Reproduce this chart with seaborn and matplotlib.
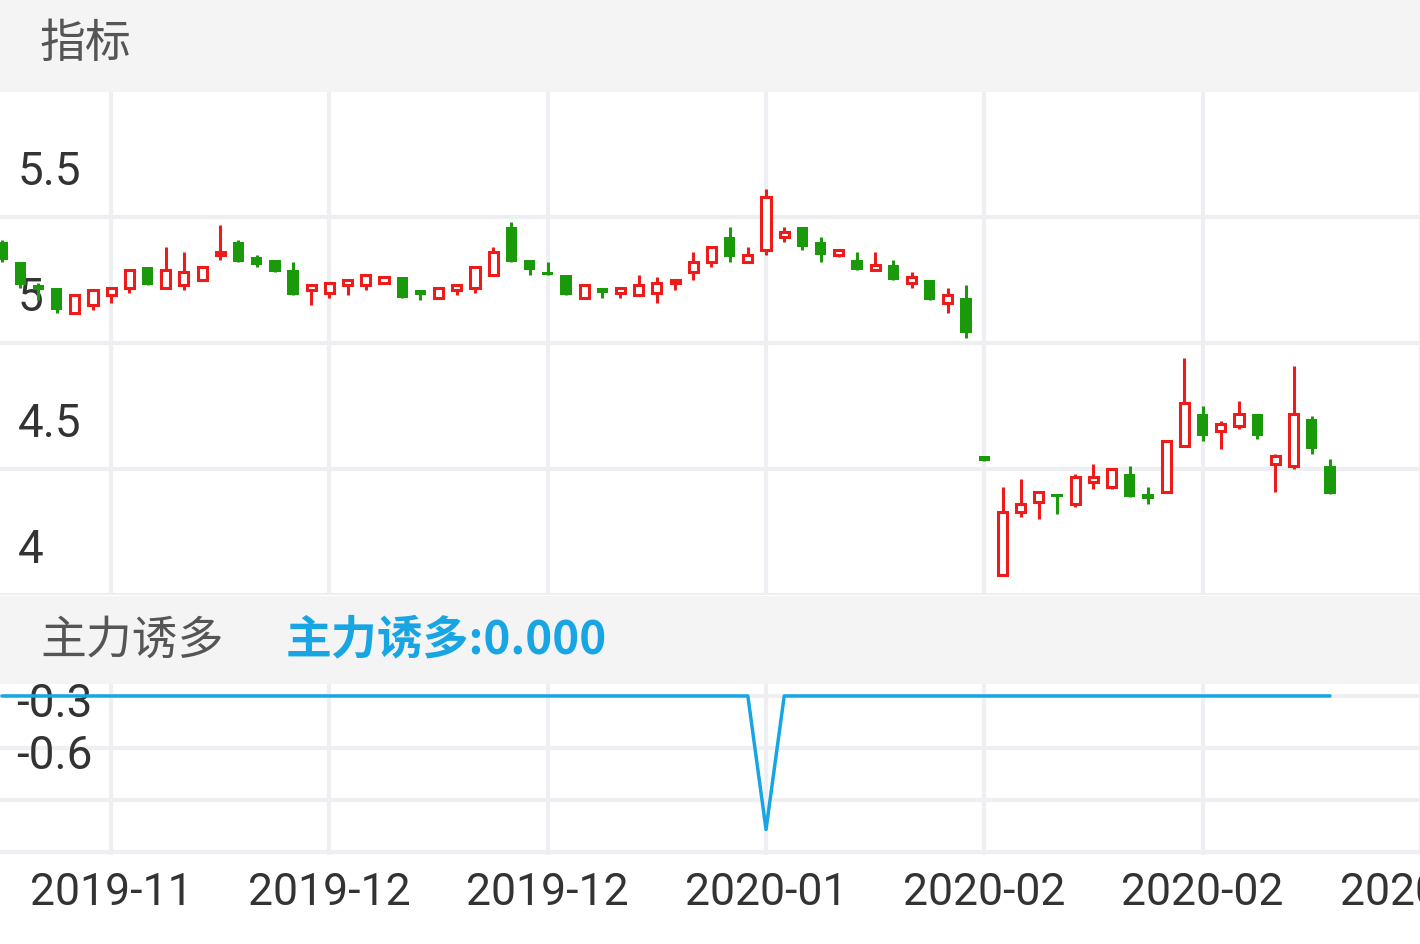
import matplotlib
matplotlib.use("Agg")
import matplotlib.pyplot as plt
import seaborn as sns
import numpy as np
import pandas as pd

# daily candles (price)
opens = [5.40, 5.32, 5.23, 5.22, 5.12, 5.15, 5.19, 5.22, 5.30, 5.22, 5.23, 5.25, 5.35, 5.40, 5.34, 5.33, 5.29, 5.21,
         5.20, 5.23, 5.23, 5.24, 5.26, 5.21, 5.18, 5.21, 5.22, 5.27, 5.46, 5.33, 5.28, 5.27, 5.18, 5.22, 5.20, 5.19,
         5.20, 5.24, 5.28, 5.32, 5.42, 5.32, 5.37, 5.42, 5.46, 5.40, 5.35, 5.33, 5.29, 5.31, 5.24, 5.25, 5.16, 5.18,
         4.55, 4.08, 4.33, 4.37, 4.40, 4.36, 4.45, 4.43, 4.48, 4.40, 4.41, 4.59, 4.72, 4.65, 4.67, 4.72, 4.52, 4.51,
         4.70, 4.51]
closes = [5.33, 5.23, 5.21, 5.13, 5.19, 5.21, 5.22, 5.29, 5.23, 5.29, 5.28, 5.30, 5.36, 5.32, 5.31, 5.28, 5.19, 5.23,
          5.24, 5.25, 5.27, 5.26, 5.18, 5.19, 5.22, 5.23, 5.30, 5.36, 5.32, 5.29, 5.27, 5.19, 5.23, 5.20, 5.22, 5.23,
          5.24, 5.25, 5.32, 5.38, 5.34, 5.35, 5.58, 5.44, 5.38, 5.35, 5.37, 5.29, 5.31, 5.25, 5.26, 5.17, 5.19, 5.04,
          4.53, 4.33, 4.36, 4.41, 4.39, 4.47, 4.47, 4.50, 4.39, 4.38, 4.61, 4.76, 4.63, 4.68, 4.72, 4.63, 4.55, 4.72,
          4.58, 4.40]
highs = [5.41, 5.32, 5.24, 5.22, 5.19, 5.21, 5.22, 5.29, 5.30, 5.38, 5.36, 5.30, 5.47, 5.41, 5.35, 5.33, 5.32, 5.23,
         5.24, 5.25, 5.27, 5.26, 5.26, 5.21, 5.22, 5.23, 5.30, 5.38, 5.48, 5.33, 5.32, 5.27, 5.23, 5.22, 5.22, 5.27,
         5.26, 5.25, 5.36, 5.38, 5.46, 5.38, 5.61, 5.46, 5.46, 5.42, 5.37, 5.36, 5.36, 5.33, 5.28, 5.25, 5.22, 5.23,
         4.55, 4.43, 4.46, 4.41, 4.40, 4.48, 4.52, 4.50, 4.51, 4.43, 4.61, 4.94, 4.75, 4.69, 4.77, 4.72, 4.56, 4.91,
         4.71, 4.54]
lows = [5.32, 5.22, 5.17, 5.12, 5.12, 5.13, 5.16, 5.20, 5.23, 5.22, 5.21, 5.25, 5.33, 5.32, 5.30, 5.28, 5.19, 5.15,
        5.18, 5.19, 5.21, 5.24, 5.18, 5.17, 5.18, 5.19, 5.20, 5.27, 5.32, 5.27, 5.27, 5.19, 5.18, 5.18, 5.18, 5.19,
        5.16, 5.21, 5.25, 5.30, 5.32, 5.32, 5.35, 5.40, 5.37, 5.32, 5.34, 5.29, 5.29, 5.25, 5.22, 5.17, 5.12, 5.02,
        4.53, 4.08, 4.31, 4.30, 4.32, 4.35, 4.42, 4.42, 4.39, 4.36, 4.41, 4.59, 4.61, 4.58, 4.66, 4.62, 4.41, 4.50,
        4.56, 4.40]

# indicator 主力诱多
ind_values = [0.0] * 42 + [-0.77] + [0.0] * 31

price_ticks = [4.0, 4.5, 5.0, 5.5]
price_labels = ["4", "4.5", "5", "5.5"]
ind_ticks = [-0.3, -0.6]
ind_labels = ["-0.3", "-0.6"]
date_ticks = [6, 18, 30, 42, 54, 66, 78]
date_labels = ["2019-11", "2019-12", "2019-12", "2020-01", "2020-02", "2020-02", "2020-02"]

RED = "#ee1b1b"
GREEN = "#1a9a0a"
BLUE = "#17a6e3"
GRID = "#eeeff2"
TXT = "#333333"

sns.set_style("white")
plt.rcParams["font.family"] = ["Roboto", "Noto Sans CJK SC", "DejaVu Sans"]

W, H = 1420, 944
fig = plt.figure(figsize=(W / 100, H / 100), dpi=100)
fig.patch.set_facecolor("white")


def rect(top, bottom):
    return [0, 1 - bottom / H, 1, (bottom - top) / H]


# header strips
for top, bottom in [(0, 92), (596, 684)]:
    hax = fig.add_axes(rect(top, bottom))
    hax.set_facecolor("#f4f4f4")
    hax.set_xticks([]); hax.set_yticks([])
    sns.despine(ax=hax, left=True, bottom=True)
fig.text(40 / W, 1 - 44 / H, "指标", fontsize=33, color="#555555", va="center",
         family=["Noto Sans CJK SC"])
fig.text(40 / W, 1 - 640 / H, "主力诱多", fontsize=33, color="#555555", va="center",
         family=["Noto Sans CJK SC"])
fig.text(286 / W, 1 - 640 / H, "主力诱多:0.000", fontsize=33, color=BLUE, va="center",
         fontweight="bold", family=["Noto Sans CJK SC"])

xmin, xmax = -0.11, 77.95

# price panel
ax = fig.add_axes(rect(92, 595))
df = pd.DataFrame({"i": np.arange(len(opens)), "open": opens, "close": closes,
                   "high": highs, "low": lows})
up = df["close"] >= df["open"]
for t in date_ticks:
    ax.axvline(t, color=GRID, lw=3, zorder=0)
for p in price_ticks:
    ax.axhline(p, color=GRID, lw=3, zorder=0)
cols = np.where(up, RED, GREEN)
ax.vlines(df["i"], df["low"], df["high"], colors=cols, lw=2.2, zorder=2)
bottoms = np.minimum(df["open"], df["close"])
heights = np.maximum(np.abs(df["close"] - df["open"]), 0.008)
ax.bar(df["i"][up], heights[up], bottom=bottoms[up], width=0.5, facecolor="white",
       edgecolor=RED, linewidth=2.2, zorder=3)
ax.bar(df["i"][~up], heights[~up], bottom=bottoms[~up], width=0.62, color=GREEN,
       linewidth=0, zorder=3)
ax.set_xlim(xmin, xmax)
ax.set_ylim(4.0, 5.996)
ax.set_xticks([]); ax.set_yticks([])
sns.despine(ax=ax, left=True, bottom=True)
for p, lab in zip(price_ticks, price_labels):
    ax.text(0.85, p + 0.18, lab, fontsize=33, color=TXT, va="center", ha="left", zorder=1)

# indicator panel
ax2 = fig.add_axes(rect(684, 855))
for t in date_ticks:
    ax2.axvline(t, color=GRID, lw=3, zorder=0)
for p in [0.0, -0.3, -0.6, -0.9]:
    ax2.axhline(p, color=GRID, lw=3, zorder=0)
sns.lineplot(x=np.arange(len(ind_values)), y=ind_values, ax=ax2, color=BLUE, lw=2.5, zorder=3)
ax2.set_xlim(xmin, xmax)
ax2.set_ylim(-0.917, 0.069)
ax2.set_xticks([]); ax2.set_yticks([])
ax2.set_xlabel(""); ax2.set_ylabel("")
sns.despine(ax=ax2, left=True, bottom=True)
for p, lab in zip(ind_ticks, ind_labels):
    ax2.text(0.8, p + 0.254, lab, fontsize=33, color=TXT, va="center", ha="left", zorder=1)

# date axis
ax3 = fig.add_axes(rect(855, 944))
ax3.set_xlim(xmin, xmax)
ax3.set_ylim(0, 1)
ax3.axis("off")
for t, lab in zip(date_ticks, date_labels):
    ax3.text(t, 0.57, lab, fontsize=32, color=TXT, ha="center", va="center")

fig.savefig("out.png", dpi=100)
